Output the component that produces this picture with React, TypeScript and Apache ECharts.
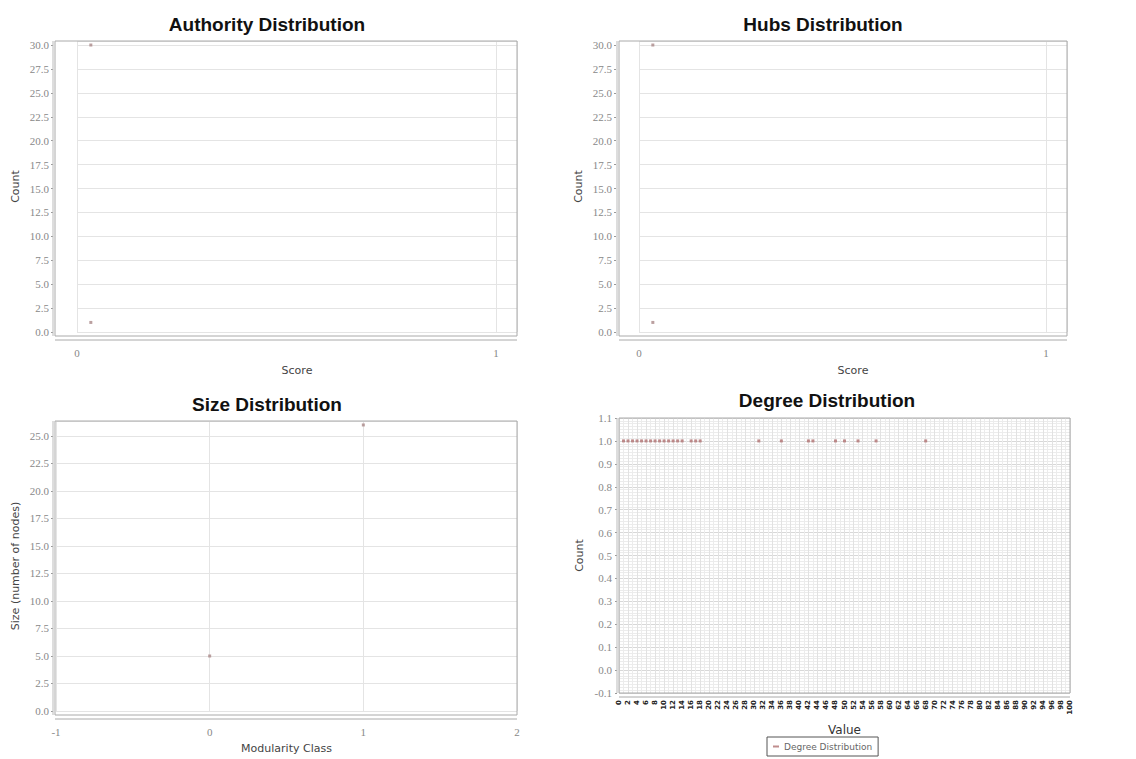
import React, { useEffect, useRef } from "react";
import * as echarts from "echarts";

// ---- data ----
const authorityScores = [0.033, 0.033];
const authorityCounts = [30, 1];
const hubScores = [0.034, 0.034];
const hubCounts = [30, 1];
const modularityClasses = [0, 1];
const classSizes = [5, 26];
const degreeValues = [1, 2, 3, 4, 5, 6, 7, 8, 9, 10, 11, 12, 13, 14, 16, 17, 18, 31, 36, 42, 43, 48, 50, 53, 57, 68];
const degreeCounts = [1, 1, 1, 1, 1, 1, 1, 1, 1, 1, 1, 1, 1, 1, 1, 1, 1, 1, 1, 1, 1, 1, 1, 1, 1, 1];

const titles = ["Authority Distribution", "Hubs Distribution", "Size Distribution", "Degree Distribution"];
const xNames = ["Score", "Score", "Modularity Class", "Value"];
const yNames = ["Count", "Count", "Size (number of nodes)", "Count"];
const legendLabel = "Degree Distribution";

const pairs = (xs: number[], ys: number[]) => xs.map((x, i) => [x, ys[i]]);

const tickFont = { color: "#888", fontFamily: "Liberation Serif", fontSize: 11 };
const nameFont = { color: "#444", fontFamily: "DejaVu Sans", fontSize: 11 };
const gridLine = { lineStyle: { color: "#e4e4e4", width: 1 } };
const noLine = { show: false, onZero: false };
const yTick = { show: true, length: 2, lineStyle: { color: "#999" } };

function frame(x1: number, y1: number, x2: number, y2: number) {
  return [
    { type: "rect", shape: { x: x1, y: y1, width: x2 - x1, height: y2 - y1 }, style: { fill: "none", stroke: "#aaa", lineWidth: 1 }, z: 10 },
    { type: "line", shape: { x1: x1, y1: y2 + 4, x2: x2, y2: y2 + 4 }, style: { stroke: "#aaa", lineWidth: 1 }, z: 10 },
    { type: "line", shape: { x1: x1 - 2, y1: y1, x2: x1 - 2, y2: y2 }, style: { stroke: "#bbb", lineWidth: 1 }, z: 10 },
  ];
}

export default function App() {
  const ref = useRef<HTMLDivElement>(null);
  useEffect(() => {
    if (!ref.current) return;
    const chart = echarts.init(ref.current, undefined, { renderer: "svg" });
    const scatterBase = { type: "scatter", symbol: "rect", symbolSize: 3, itemStyle: { color: "#a88" } };
    chart.setOption({
      animation: false,
      backgroundColor: "#fff",
      title: [
        { text: titles[0], left: 262, top: 10, textAlign: "center" },
        { text: titles[1], left: 818, top: 10, textAlign: "center" },
        { text: titles[2], left: 262, top: 390, textAlign: "center" },
        { text: titles[3], left: 822, top: 386, textAlign: "center" },
      ].map((t) => ({ ...t, textStyle: { fontFamily: "Liberation Sans", fontWeight: "bold", fontSize: 19, color: "#111" } })),
      legend: {
        data: [legendLabel],
        left: 767,
        top: 737,
        itemWidth: 6,
        itemHeight: 2,
        icon: "rect",
        padding: [5, 6, 5, 6],
        borderColor: "#555",
        borderWidth: 1,
        textStyle: { fontSize: 9, color: "#666", fontFamily: "DejaVu Sans" },
      },
      grid: [
        { left: 77, top: 41, width: 440, height: 291 },
        { left: 639, top: 41, width: 428, height: 291 },
        { left: 56, top: 421, width: 461, height: 290 },
        { left: 619, top: 418, width: 451, height: 275 },
      ],
      xAxis: [
        {
          gridIndex: 0, type: "value", min: 0, max: 1.0501, interval: 1, offset: 8,
          axisLine: noLine, axisTick: { show: false },
          axisLabel: { ...tickFont, margin: 7, showMaxLabel: false },
          splitLine: { show: true, ...gridLine },
          name: xNames[0], nameLocation: "middle", nameGap: 25, nameTextStyle: nameFont,
        },
        {
          gridIndex: 1, type: "value", min: 0, max: 1.0516, interval: 1, offset: 8,
          axisLine: noLine, axisTick: { show: false },
          axisLabel: { ...tickFont, margin: 7, showMaxLabel: false },
          splitLine: { show: true, ...gridLine },
          name: xNames[1], nameLocation: "middle", nameGap: 25, nameTextStyle: nameFont,
        },
        {
          gridIndex: 2, type: "value", min: -1, max: 2, interval: 1, offset: 7,
          axisLine: noLine, axisTick: { show: false },
          axisLabel: { ...tickFont, margin: 8 },
          splitLine: { show: true, ...gridLine },
          name: xNames[2], nameLocation: "middle", nameGap: 25, nameTextStyle: nameFont,
        },
        {
          gridIndex: 3, type: "value", min: 0, max: 100, interval: 2, offset: 4,
          axisLine: noLine, axisTick: { show: false },
          axisLabel: { color: "#222", fontSize: 7, fontFamily: "DejaVu Sans", fontWeight: "bold", margin: 3, rotate: 90 },
          splitLine: { show: true, lineStyle: { color: "#e2e2e2", width: 1 } },
          minorTick: { show: false, splitNumber: 2 },
          minorSplitLine: { show: true, lineStyle: { color: "#ececec", width: 1 } },
          name: xNames[3], nameLocation: "middle", nameGap: 27, nameTextStyle: { ...nameFont, fontSize: 12, color: "#333" },
        },
      ],
      yAxis: [
        {
          gridIndex: 0, type: "value", min: 0, max: 30.42, interval: 2.5, offset: 24,
          axisLine: noLine, axisTick: yTick,
          axisLabel: { ...tickFont, margin: 4, showMaxLabel: false, formatter: (v: number) => v.toFixed(1) },
          splitLine: { show: true, ...gridLine },
          name: yNames[0], nameLocation: "middle", nameGap: 32, nameTextStyle: nameFont,
        },
        {
          gridIndex: 1, type: "value", min: 0, max: 30.42, interval: 2.5, offset: 23,
          axisLine: noLine, axisTick: yTick,
          axisLabel: { ...tickFont, margin: 4, showMaxLabel: false, formatter: (v: number) => v.toFixed(1) },
          splitLine: { show: true, ...gridLine },
          name: yNames[1], nameLocation: "middle", nameGap: 32, nameTextStyle: nameFont,
        },
        {
          gridIndex: 2, type: "value", min: 0, max: 26.36, interval: 2.5, offset: 3,
          axisLine: noLine, axisTick: yTick,
          axisLabel: { ...tickFont, margin: 4, showMaxLabel: false, formatter: (v: number) => v.toFixed(1) },
          splitLine: { show: true, ...gridLine },
          name: yNames[2], nameLocation: "middle", nameGap: 32, nameTextStyle: nameFont,
        },
        {
          gridIndex: 3, type: "value", min: -0.1, max: 1.1, interval: 0.1, offset: 2,
          axisLine: noLine, axisTick: yTick,
          axisLabel: { ...tickFont, margin: 5, formatter: (v: number) => v.toFixed(1) },
          splitLine: { show: true, lineStyle: { color: "#d8d8d8", width: 1 } },
          minorTick: { show: false, splitNumber: 8 },
          minorSplitLine: { show: true, lineStyle: { color: "#ececec", width: 1 } },
          name: yNames[3], nameLocation: "middle", nameGap: 32, nameTextStyle: nameFont,
        },
      ],
      series: [
        { ...scatterBase, name: "authority", xAxisIndex: 0, yAxisIndex: 0, data: pairs(authorityScores, authorityCounts) },
        { ...scatterBase, name: "hubs", xAxisIndex: 1, yAxisIndex: 1, data: pairs(hubScores, hubCounts) },
        { ...scatterBase, name: "size", xAxisIndex: 2, yAxisIndex: 2, data: pairs(modularityClasses, classSizes) },
        {
          type: "scatter", name: legendLabel, xAxisIndex: 3, yAxisIndex: 3, symbol: "rect", symbolSize: 3,
          itemStyle: { color: "#b07070" }, data: pairs(degreeValues, degreeCounts),
        },
      ],
      graphic: [
        ...frame(55, 41, 517, 336),
        ...frame(619, 41, 1067, 336),
        ...frame(55, 421, 517, 715),
        ...frame(619, 418, 1070, 693),
      ],
    });
    return () => chart.dispose();
  }, []);
  return (
    <div
      ref={ref}
      style={{ position: "fixed", left: 0, top: 0, width: 1136, height: 759, background: "#fff" }}
    />
  );
}
